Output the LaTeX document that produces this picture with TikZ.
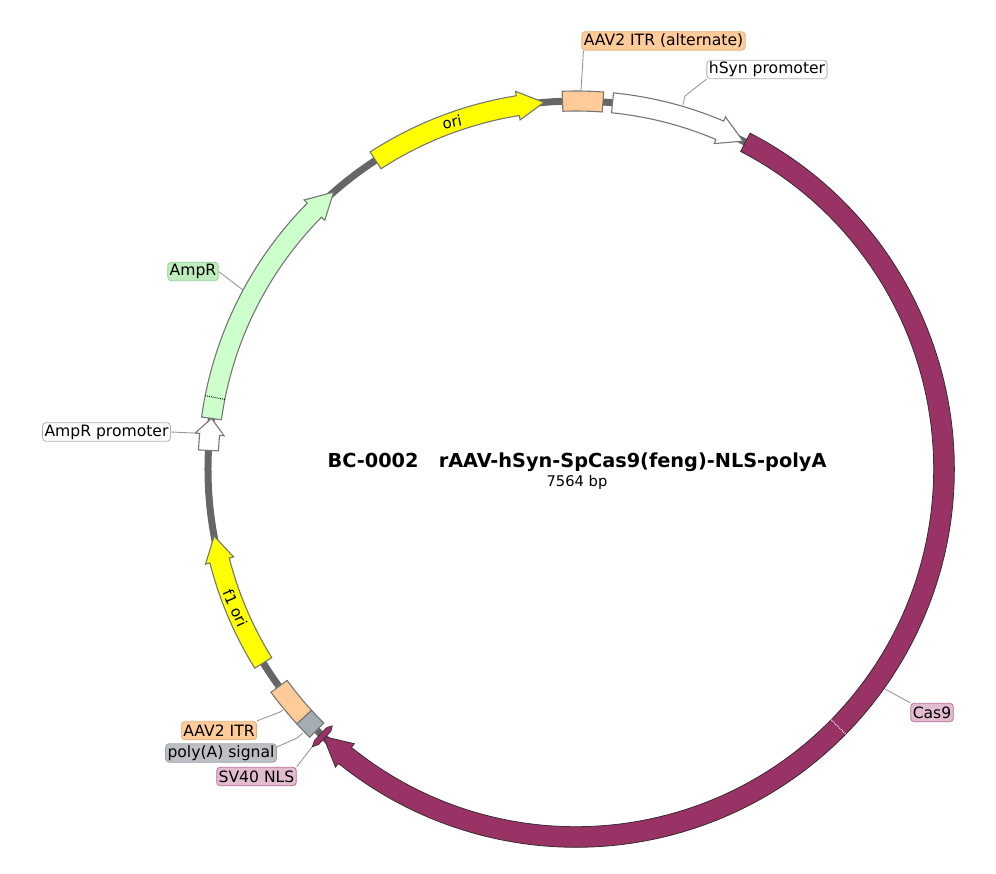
\documentclass[tikz,border=0pt]{standalone}
\usepackage{fontspec}
\setmainfont{DejaVu Sans}
\usepackage{xcolor}

\definecolor{casfill}{HTML}{993366}
\definecolor{casedge}{HTML}{3A2A33}
\definecolor{caslabel}{HTML}{E3BBD1}
\definecolor{casborder}{HTML}{B9709A}
\definecolor{itrfill}{HTML}{FFCC99}
\definecolor{itrborder}{HTML}{E0B080}
\definecolor{ampfill}{HTML}{CCFFCC}
\definecolor{amplabel}{HTML}{BDEDBD}
\definecolor{ampborder}{HTML}{9AD09A}
\definecolor{polyfill}{HTML}{A6ACB3}
\definecolor{polylabel}{HTML}{BCC0C5}
\definecolor{polyborder}{HTML}{A0A4AA}
\definecolor{orifill}{RGB}{255,255,0}
\definecolor{backbone}{HTML}{666666}
\definecolor{edge}{HTML}{767676}

\tikzset{
  feature/.style={draw=edge, line width=1.1pt, line join=miter},
  leader/.style={draw=black!40, line width=0.9pt},
  maplabel/.style={draw=#1, line width=0.8pt, rounded corners=3.5pt, inner xsep=2pt,
    inner ysep=0pt, minimum height=18.5pt, text=black, font=\fontsize{15.6}{15.6}\selectfont},
}

\newcommand{\arcarrow}[6]{%
  \filldraw[feature,#1] (#2:368+#5) arc[start angle=#2,end angle=#3,radius=368+#5]
    -- (#3:368+#6) -- (#4:368) -- (#3:368-#6) -- (#3:368-#5)
    arc[start angle=#3,end angle=#2,radius=368-#5] -- cycle;}
\newcommand{\arcblock}[4]{%
  \filldraw[feature,#1] (#2:368+#4) arc[start angle=#2,end angle=#3,radius=368+#4]
    -- (#3:368-#4) arc[start angle=#3,end angle=#2,radius=368-#4] -- cycle;}

\begin{document}
\begin{tikzpicture}[x=1pt,y=1pt]
    \useasboundingbox (-576,-404) rectangle (420,469);
    % backbone
    \draw[backbone, line width=7pt] (0,0) circle (368);

    % leader ends
    \coordinate (altend) at (5,378);
    \coordinate (hsynend) at (107,364);
    \coordinate (hsynbend) at (109,373);
    \coordinate (ampend) at (-333,179);
    \coordinate (amppend) at (-382,36);
    \coordinate (casend) at (309,-220);
    \coordinate (itrend) at (-293,-241);
    \coordinate (itrbend) at (-296,-243);
    \coordinate (polyend) at (-273,-264);
    \coordinate (polybend) at (-279,-269);
    \coordinate (nlsend) at (-261,-274);

    % labels
    \node[maplabel=itrborder, fill=itrfill] (altlbl) at (87.5,428) {AAV2 ITR (alternate)};
    \node[maplabel=black!30, fill=white] (hsynlbl) at (191,399.5) {hSyn promoter};
    \node[maplabel=ampborder, fill=amplabel] (amplbl) at (-383,197.5) {AmpR};
    \node[maplabel=black!30, fill=white] (ampplbl) at (-469.5,37) {AmpR promoter};
    \node[maplabel=casborder, fill=caslabel] (caslbl) at (356,-243.5) {Cas9};
    \node[maplabel=itrborder, fill=itrfill] (itrlbl) at (-357,-261.5) {AAV2 ITR};
    \node[maplabel=polyborder, fill=polylabel] (polylbl) at (-355,-284) {poly(A) signal};
    \node[maplabel=casborder, fill=caslabel] (nlslbl) at (-319.5,-307.5) {SV40 NLS};

    % leaders
    \draw[leader] ([xshift=2pt]altlbl.south west) -- (altend);
    \draw[leader] (hsynlbl.south west) -- (hsynbend) -- (hsynend);
    \draw[leader] (amplbl.east) -- (ampend);
    \draw[leader] (ampplbl.east) -- (amppend);
    \draw[leader] (caslbl.north west) -- (casend);
    \draw[leader] (itrlbl.north east) -- (itrbend) -- (itrend);
    \draw[leader] ([yshift=6pt]polylbl.east) -- (polybend) -- (polyend);
    \draw[leader] (nlslbl.north east) -- (nlsend);

    % features
    \arcarrow{fill=casfill, draw=casedge, line width=0.8pt}{62.6}{-128.9}{-133.4}{10.3}{15}
    \arcarrow{fill=white}{84.3}{67}{63}{10}{14.5}
    \arcblock{fill=itrfill}{92.1}{85.8}{10}
    \arcarrow{fill=orifill}{123}{99.1}{95}{10}{14.5}
    \arcarrow{fill=ampfill}{172.1}{135.3}{131.2}{10}{14.5}
    \arcarrow{fill=white}{177.1}{174.6}{172.1}{10}{14.5}
    \arcarrow{fill=orifill}{211.8}{194.4}{190.5}{10}{14.5}
    \arcblock{fill=itrfill}{216.2}{222.4}{10}
    \arcblock{fill=polyfill}{222.4}{225.2}{10}
    \filldraw[fill=casfill, draw=casedge, line width=0.6pt]
      (226.05:359) -- (226.5:354) -- (226.95:359) -- (226.95:377) -- (226.5:383) -- (226.05:377) -- cycle;

    % dotted joins
    \draw[white, densely dotted, line width=0.9pt] (-44.5:358) -- (-44.5:378);
    \draw[black, densely dotted, line width=0.9pt] (168.8:358) -- (168.8:378);

    % inline names
    \node[font=\fontsize{15}{15}\selectfont, rotate=12] (orilbl) at (-124,347) {ori};
    \node[font=\fontsize{15}{15}\selectfont, rotate=-66] (f1lbl) at (-340.5,-139) {f1 ori};

    % title
    \node[font=\fontsize{19.3}{19.3}\selectfont\bfseries] (titlelbl) at (1,7) {BC-0002\ \ \ rAAV-hSyn-SpCas9(feng)-NLS-polyA};
    \node[font=\fontsize{14.7}{14.7}\selectfont] (sizelbl) at (1,-13) {7564 bp};
\end{tikzpicture}
\end{document}
